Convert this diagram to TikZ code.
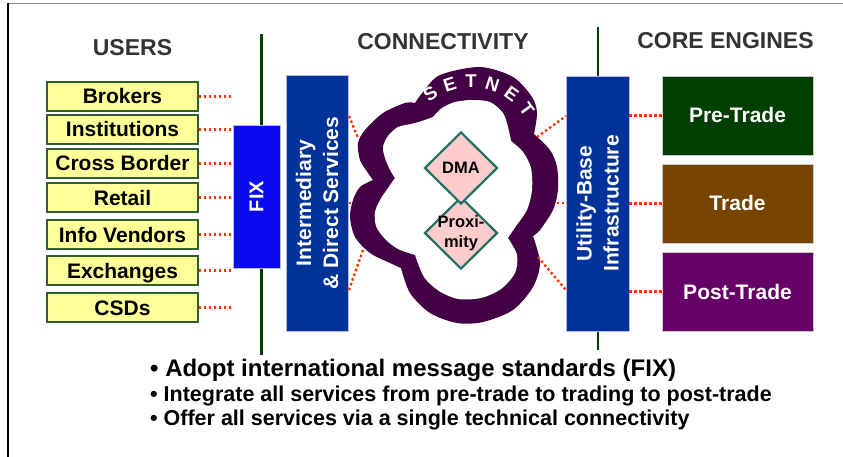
\documentclass[tikz,border=0pt]{standalone}
\usepackage{fontspec}
\setmainfont{Liberation Sans}
\usetikzlibrary{shapes.geometric}
\definecolor{userfill}{HTML}{FFFF99}
\definecolor{userline}{HTML}{2F5F2F}
\definecolor{fixblue}{HTML}{0A0AF0}
\definecolor{navy}{HTML}{003399}
\definecolor{boxedge}{HTML}{B8B8E0}
\definecolor{linkred}{HTML}{FF3300}
\definecolor{railgreen}{HTML}{004000}
\definecolor{pregreen}{HTML}{003F00}
\definecolor{tradebrown}{HTML}{774400}
\definecolor{postpurple}{HTML}{660066}
\definecolor{cloudpurple}{HTML}{440044}
\definecolor{gempink}{HTML}{FFCCCC}
\definecolor{gemteal}{HTML}{1F6F62}
\definecolor{titlegray}{HTML}{333333}
\tikzset{
  headtext/.style={font=\fontsize{23}{27}\selectfont\bfseries,text=titlegray,anchor=base,inner sep=0pt},
  userbox/.style={draw=userline,line width=1.2pt,fill=userfill,minimum width=151pt,minimum height=29pt,
    inner sep=0pt,text height=15pt,text depth=0pt,font=\fontsize{21}{25}\selectfont\bfseries},
  pillar/.style={rotate=90,fill=navy,draw=boxedge,line width=0.8pt,minimum width=256pt,minimum height=62pt,
    inner sep=0pt,text=white,align=center,font=\fontsize{21}{27}\selectfont\bfseries},
  engine/.style={draw=black!20,line width=0.8pt,minimum width=151pt,minimum height=79pt,inner sep=0pt,
    text=white,text height=15pt,text depth=0pt,font=\fontsize{21}{25}\selectfont\bfseries},
  gem/.style={shape=diamond,draw=gemteal,fill=gempink,line width=2.2pt,minimum width=73pt,minimum height=72pt,inner sep=0pt},
  gemtext/.style={font=\fontsize{16.5}{20}\selectfont\bfseries,align=center,inner sep=0pt},
  netletter/.style={text=white,inner sep=0pt,font=\fontsize{18.5}{18.5}\selectfont\bfseries},
  linkdot/.style={draw=linkred,line width=2.4pt,dash pattern=on 2.4pt off 2.6pt},
  rail/.style={draw=railgreen},
  notetext/.style={anchor=base west,inner sep=0pt}
}
\begin{document}
\begin{tikzpicture}[x=1pt,y=-1pt]
\useasboundingbox (0,0) rectangle (843,457);
%% frame and rails
\draw [black!45,line width=1.5pt] (8,3.5) -- (843,3.5);
\draw [black,line width=1.5pt] (8,3) -- (8,457);
\draw [rail,line width=3pt] (261,34) -- (261,355);
\draw [rail,line width=1.4pt] (598,27) -- (598,350);
%% headings
\node (title_users) at (132.5,56) [headtext] {USERS};
\node (title_conn) at (443,50) [headtext] {CONNECTIVITY};
\node (title_core) at (725.5,49) [headtext] {CORE ENGINES};
%% users
\node (user_brokers) at (122.5,96.5) [userbox] {Brokers};
\node (user_inst) at (122.5,129.5) [userbox] {Institutions};
\node (user_cross) at (122.5,163.5) [userbox] {Cross Border};
\node (user_retail) at (122.5,197.5) [userbox] {Retail};
\node (user_info) at (122.5,234.5) [userbox] {Info Vendors};
\node (user_exch) at (122.5,270.5) [userbox] {Exchanges};
\node (user_csd) at (122.5,307.5) [userbox] {CSDs};
\node (fix) at (256.5,196.5) [pillar,fill=fixblue,minimum width=143pt,minimum height=47pt,font=\fontsize{20}{24}\selectfont\bfseries] {FIX};
\foreach \u in {brokers,inst,cross,retail,info,exch,csd}
  \draw [linkdot] (user_\u.east) -- (user_\u.east -| fix.north);
%% connectivity
\node (direct) at (317,203) [pillar] {Intermediary\\\& Direct Services};
\node (util) at (597.5,203.5) [pillar,minimum width=255pt,minimum height=63pt] {Utility-Base\\Infrastructure};
\fill [cloudpurple]
  plot [smooth] coordinates {(415,103) (423,92) (440,75) (480,67) (513,77) (532,97) (537,113) (534,134)}
  -- plot [smooth] coordinates {(534,134) (550,150) (557,167) (558,190) (553,210) (540,230) (533,236)}
  -- plot [smooth] coordinates {(533,236) (540,263) (533,287) (513,310) (483,322) (457,323) (430,313) (410,293) (401,268)}
  -- plot [smooth] coordinates {(401,268) (390,263) (370,253) (355,237) (350,217) (353,200) (360,187) (373,180)}
  -- plot [smooth] coordinates {(373,180) (368,173) (360,160) (358,143) (365,130) (383,113) (405,103) (415,103)}
  -- cycle;
\fill [white]
  plot [smooth] coordinates {(433,117) (442,108) (455,102) (472,100) (490,102) (503,113) (508,127) (511,141)}
  -- plot [smooth] coordinates {(511,141) (523,152) (531,168) (532,190) (527,210) (516,226) (508,238)}
  -- plot [smooth] coordinates {(508,238) (517,255) (515,273) (501,289) (481,298) (458,299) (439,291) (424,277) (415,255)}
  -- plot [smooth] coordinates {(415,255) (398,249) (385,239) (376,226) (375,212) (380,200) (388,188) (395,178)}
  -- plot [smooth] coordinates {(395,178) (390,170) (385,158) (383,147) (388,136) (398,127) (411,124) (422,121) (433,117)}
  -- cycle;
\foreach \ch [count=\i] in {S,E,T,N,E,T} {
  \pgfmathsetmacro\ang{-126+18*(\i-1)}
  \node (setnet_\i) at ({471+69*cos(\ang)},{150+69*sin(\ang)}) [netletter,rotate={-\ang-90}] {\ch};
}
\node (gem_prox) at (461,233) [gem,label={[gemtext]center:Proxi-\\mity}] {};
\node (gem_dma) at (461,168) [gem,label={[gemtext]center:DMA}] {};
% cloud edge points
\coordinate (cl_a) at (358,138);
\coordinate (cl_b) at (354,203);
\coordinate (cl_c) at (363,250);
\coordinate (cr_a) at (537,137);
\coordinate (cr_b) at (557,203);
\coordinate (cr_c) at (538,257);
\coordinate (dl_a) at (349,116);
\coordinate (dl_b) at (349,203);
\coordinate (dl_c) at (349,290);
\coordinate (ul_a) at (566,116);
\coordinate (ul_b) at (566,203);
\coordinate (ul_c) at (566,290);
\draw [linkdot] (dl_a) -- (cl_a);
\draw [linkdot] (dl_b) -- (cl_b);
\draw [linkdot] (dl_c) -- (cl_c);
\draw [linkdot] (cr_a) -- (ul_a);
\draw [linkdot] (cr_b) -- (ul_b);
\draw [linkdot] (cr_c) -- (ul_c);
%% core engines
\node (eng_pre) at (737.5,115.5) [engine,fill=pregreen] {Pre-Trade};
\node (eng_trade) at (737.5,203.5) [engine,fill=tradebrown] {Trade};
\node (eng_post) at (737.5,291.5) [engine,fill=postpurple] {Post-Trade};
\foreach \e in {pre,trade,post}
  \draw [linkdot] (eng_\e.west -| util.south) -- (eng_\e.west);
%% notes
\node (note_1) at (150,376.5) [notetext,font=\fontsize{24}{26}\selectfont\bfseries] {• Adopt international message standards (FIX)};
\node (note_2) at (150,401.5) [notetext,font=\fontsize{21.5}{24}\selectfont\bfseries] {• Integrate all services from pre-trade to trading to post-trade};
\node (note_3) at (150,425) [notetext,font=\fontsize{21.5}{24}\selectfont\bfseries] {• Offer all services via a single technical connectivity};
%
\end{tikzpicture}
\end{document}
